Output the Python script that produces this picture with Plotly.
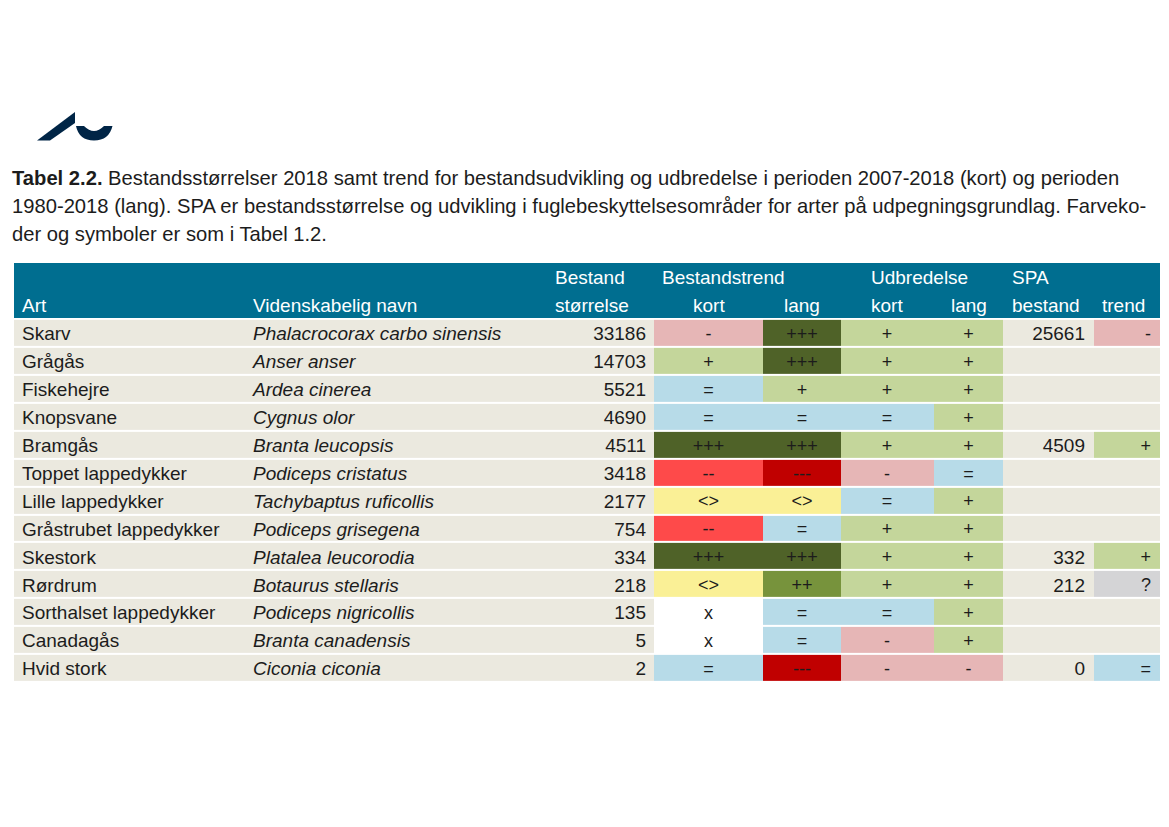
import plotly.graph_objects as go

# Table content
arter = ["Skarv", "Grågås", "Fiskehejre", "Knopsvane", "Bramgås", "Toppet lappedykker",
         "Lille lappedykker", "Gråstrubet lappedykker", "Skestork", "Rørdrum",
         "Sorthalset lappedykker", "Canadagås", "Hvid stork"]
latin = ["Phalacrocorax carbo sinensis", "Anser anser", "Ardea cinerea", "Cygnus olor",
         "Branta leucopsis", "Podiceps cristatus", "Tachybaptus ruficollis",
         "Podiceps grisegena", "Platalea leucorodia", "Botaurus stellaris",
         "Podiceps nigricollis", "Branta canadensis", "Ciconia ciconia"]
bestand = [33186, 14703, 5521, 4690, 4511, 3418, 2177, 754, 334, 218, 135, 5, 2]
trend_kort = ["-", "+", "=", "=", "+++", "--", "<>", "--", "+++", "<>", "x", "x", "="]
trend_lang = ["+++", "+++", "+", "=", "+++", "---", "<>", "=", "+++", "++", "=", "=", "---"]
udbr_kort = ["+", "+", "+", "=", "+", "-", "=", "+", "+", "+", "=", "-", "-"]
udbr_lang = ["+", "+", "+", "+", "+", "=", "+", "+", "+", "+", "+", "+", "-"]
spa_bestand = [25661, None, None, None, 4509, None, None, None, 332, 212, None, None, 0]
spa_trend = ["-", "", "", "", "+", "", "", "", "+", "?", "", "", "="]

title_lines = [
    "<b>Tabel 2.2.</b> Bestandsstørrelser 2018 samt trend for bestandsudvikling og udbredelse i perioden 2007-2018 (kort) og perioden",
    "1980-2018 (lang). SPA er bestandsstørrelse og udvikling i fuglebeskyttelsesområder for arter på udpegningsgrundlag. Farveko-",
    "der og symboler er som i Tabel 1.2.",
]

# Colour for each symbol, header and plain cells get their own code
symbols = ["", "---", "--", "-", "=", "+", "++", "+++", "<>", "?", "x", "header"]
colors = ["#ebe9df", "#c00000", "#fe4a4a", "#e6b6b6", "#b7dbe8", "#c4d69b", "#77933c",
          "#4f6228", "#faf096", "#d4d4d6", "#ffffff", "#006e90"]
WIDTH, HEIGHT = 1169, 827


def px(x):
    return x / WIDTH


def py(y):
    return 1 - y / HEIGHT


# Column edges in page pixels, 9 columns
edges = [14, 245, 545, 654, 763, 841, 934, 1003, 1094, 1160]
n_rows = len(arter)
y_edges = [i - 0.5 for i in range(0, n_rows + 1)]

code = {s: i for i, s in enumerate(symbols)}
z = []
for i in range(n_rows):
    z.append([0, 0, 0, code[trend_kort[i]], code[trend_lang[i]], code[udbr_kort[i]],
              code[udbr_lang[i]], 0, code[spa_trend[i]] if spa_trend[i] else 0])

n = len(colors)
scale = []
for i, c in enumerate(colors):
    scale += [[i / n, c], [(i + 1) / n, c]]

fig = go.Figure()
fig.add_trace(go.Heatmap(x=edges, y=y_edges, z=z, zmin=0, zmax=n, colorscale=scale,
                         showscale=False, ygap=2, hoverinfo="skip"))
# Header band is one tall row over both header lines
fig.add_trace(go.Heatmap(x=edges, y=[-2.5, -0.5], z=[[code["header"]] * 9], zmin=0, zmax=n,
                         colorscale=scale, showscale=False, ygap=1, hoverinfo="skip"))

FONT = "Liberation Sans"
DARK = "#1c1c1c"
TEXT_DY = 0.09  # text sits a little under the row middle
rows = [r + TEXT_DY for r in range(n_rows)]


def labels(x, y, text, pos, size=19, color=DARK):
    fig.add_trace(go.Scatter(x=x, y=y, text=text, mode="text", textposition=pos,
                             textfont=dict(family=FONT, size=size, color=color),
                             hoverinfo="skip", showlegend=False, cliponaxis=False))


labels([22] * n_rows, rows, arter, "middle right")
labels([253] * n_rows, rows, ["<i>%s</i>" % s for s in latin], "middle right")
labels([646] * n_rows, rows, bestand, "middle left")
labels([708.5] * n_rows, rows, trend_kort, "middle center", 18)
labels([802] * n_rows, rows, trend_lang, "middle center", 18)
labels([887] * n_rows, rows, udbr_kort, "middle center", 18)
labels([968.5] * n_rows, rows, udbr_lang, "middle center", 18)
labels([1085] * n_rows, rows, [("" if v is None else v) for v in spa_bestand], "middle left")
labels([1151] * n_rows, rows, spa_trend, "middle left", 18)

# Header texts
head_x = [22, 253, 555, 693, 784, 871, 951, 1012, 1102]
head_low = ["Art", "Videnskabelig navn", "størrelse", "kort", "lang", "kort", "lang", "bestand", "trend"]
labels(head_x, [-1 + TEXT_DY] * 9, head_low, "middle right", color="#ffffff")
head_up_x = [555, 662, 871, 1012]
head_up = ["Bestand", "Bestandstrend", "Udbredelse", "SPA"]
labels(head_up_x, [-2 + TEXT_DY] * 4, head_up, "middle right", color="#ffffff")

# Caption above the table
for line, y in zip(title_lines, [178, 206, 234]):
    fig.add_annotation(x=px(9.5), y=py(y), xref="paper", yref="paper", text=line, showarrow=False,
                       xanchor="left", yanchor="middle",
                       font=dict(family=FONT, size=20.2, color=DARK))

# University logo
slash = "M %f,%f L %f,%f L %f,%f L %f,%f Z" % (px(37), py(140.5), px(75), py(112), px(75), py(123), px(50), py(140.5))
fig.add_shape(type="path", path=slash, xref="paper", yref="paper", fillcolor="#002546", line_width=0)
smile = "M %f,%f L %f,%f Q %f,%f %f,%f L %f,%f Q %f,%f %f,%f Q %f,%f %f,%f Z" % (
    px(76), py(126), px(84), py(126), px(94), py(136), px(104), py(126), px(112.5), py(126),
    px(109), py(140.5), px(94), py(140.5), px(79), py(140.5), px(76), py(126))
fig.add_shape(type="path", path=smile, xref="paper", yref="paper", fillcolor="#002546", line_width=0)

fig.update_layout(
    width=WIDTH, height=HEIGHT, margin=dict(l=0, r=0, t=0, b=0),
    plot_bgcolor="white", paper_bgcolor="white", showlegend=False,
    xaxis=dict(domain=[px(14), px(1160)], range=[14, 1160], visible=False),
    yaxis=dict(domain=[py(682), py(263)], range=[n_rows - 0.5, -2.5], visible=False),
)
fig.write_html("out.html", config={"displayModeBar": False},
               post_script="document.body.style.margin='0';")
